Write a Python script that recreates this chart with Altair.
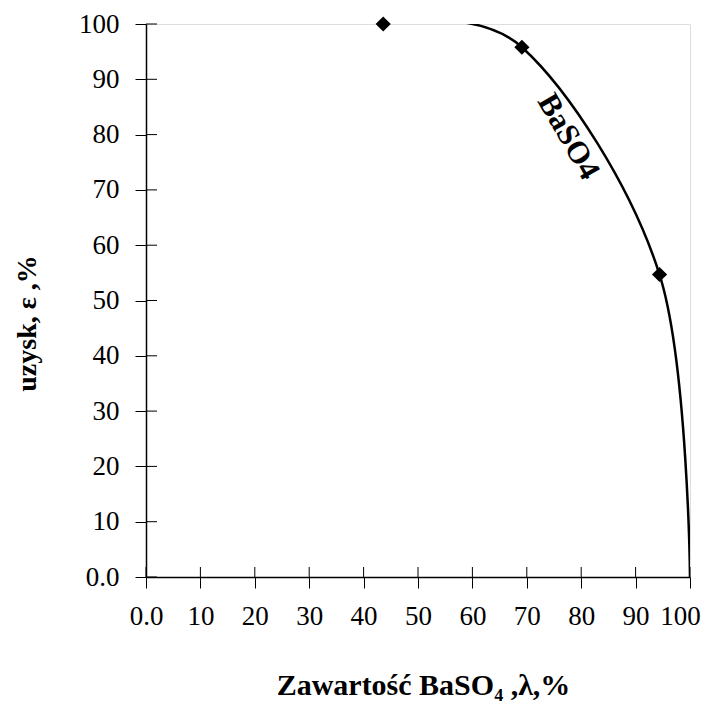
import altair as alt
import pandas as pd

# data
content = [43.6, 69.1, 94.4, 100.0]   # Zawartość BaSO4, %
recovery = [100.0, 95.8, 54.7, 0.0]   # uzysk, %
marker_mask = [True, True, True, False]
tick_values = [0, 10, 20, 30, 40, 50, 60, 70, 80, 90, 100]
label_text = "BaSO4"
label_x = [77.6]
label_y = [79.6]

W, H = 544, 553
FONT = "Liberation Serif"

df = pd.DataFrame({"x": content, "y": recovery, "m": marker_mask})
pts = df[df["m"]]
ticks = pd.DataFrame({"v": tick_values})
lab = pd.DataFrame({"x": label_x, "y": label_y, "t": [label_text]})

xscale = alt.Scale(domain=[0, 100], nice=False, zero=False)
yscale = alt.Scale(domain=[0, 100], nice=False, zero=False)

lbl_expr = "datum.value == 0 ? '0.0' : datum.label"

xaxis = alt.Axis(
    values=tick_values, grid=False, tickSize=11, tickColor="black", tickWidth=1,
    domainColor="black", domainWidth=1.5, labelFont=FONT, labelFontSize=27,
    labelColor="black", labelPadding=15, labelExpr=lbl_expr, labelFlush=False,
    labelOverlap=False,
    labelOffset=alt.ConditionalAxisNumber(
        condition={"test": "datum.value == 100", "value": -10}, value=0
    ),
    title="Zawartość BaSO₄ ,λ,%", titleFont=FONT, titleFontSize=30,
    titleFontWeight="bold", titleColor="black", titleX=277, titleY=117,
    titleBaseline="alphabetic", titleAlign="center",
)
yaxis = alt.Axis(
    values=tick_values, grid=False, tickSize=11, tickColor="black", tickWidth=1,
    domainColor="black", domainWidth=1.5, labelFont=FONT, labelFontSize=27,
    labelColor="black", labelPadding=16, labelExpr=lbl_expr, labelFlush=False,
    labelOverlap=False,
    title="uzysk, ε ,%", titleFont=FONT, titleFontSize=28,
    titleFontWeight="bold", titleColor="black", titleX=-111, titleY=299,
    titleAngle=270, titleBaseline="alphabetic", titleAlign="center",
)

line = alt.Chart(df).mark_line(
    color="black", strokeWidth=2.5, interpolate="cardinal", clip=True
).encode(
    x=alt.X("x:Q", scale=xscale, axis=xaxis),
    y=alt.Y("y:Q", scale=yscale, axis=yaxis),
)

markers = alt.Chart(pts).mark_point(
    shape="diamond", filled=True, color="black", size=230, opacity=1
).encode(x=alt.X("x:Q", scale=xscale), y=alt.Y("y:Q", scale=yscale))

inner_x = alt.Chart(ticks).mark_rule(color="black", strokeWidth=1).encode(
    x=alt.X("v:Q", scale=xscale), y=alt.value(H - 10), y2=alt.value(H)
)
inner_y = alt.Chart(ticks).mark_rule(color="black", strokeWidth=1).encode(
    y=alt.Y("v:Q", scale=yscale), x=alt.value(0), x2=alt.value(11)
)

text = alt.Chart(lab).mark_text(
    font=FONT, fontSize=31, fontWeight="bold", angle=60, color="black",
    align="center", baseline="middle"
).encode(x=alt.X("x:Q", scale=xscale), y=alt.Y("y:Q", scale=yscale), text="t:N")

chart = alt.layer(inner_x, inner_y, line, markers, text).properties(
    width=W, height=H,
    autosize=alt.AutoSizeParams(type="none"),
    padding={"left": 138, "top": 16, "right": 14, "bottom": 124},
).configure_view(stroke="black", strokeWidth=1.5).configure(background="white")

chart.save("out.html", embed_options={"renderer": "svg", "actions": False})
